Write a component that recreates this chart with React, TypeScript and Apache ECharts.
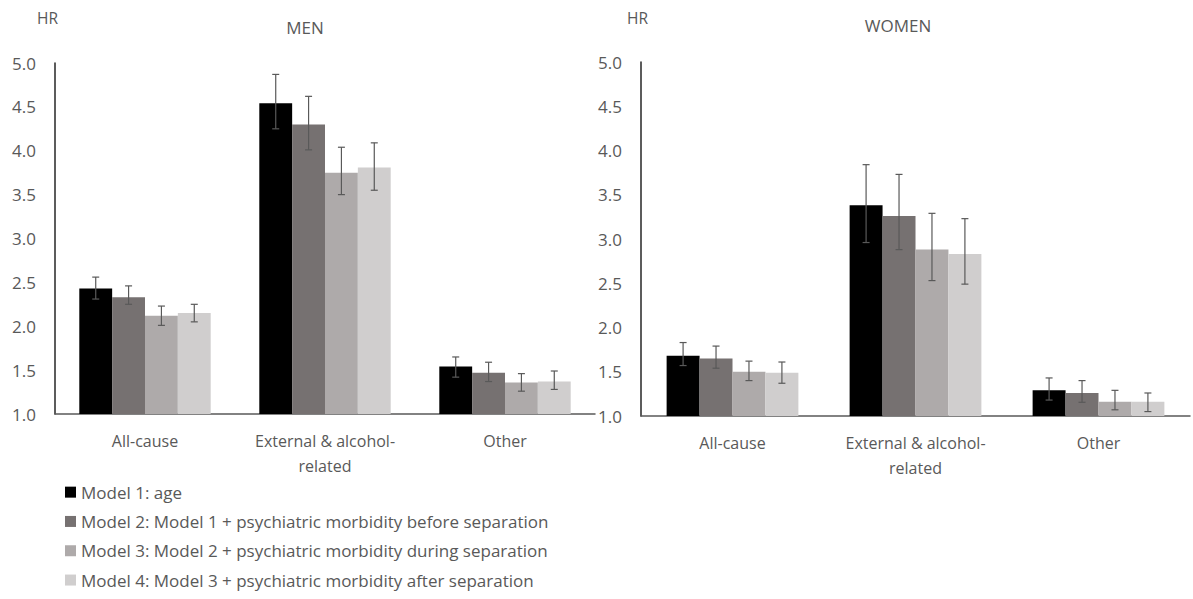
import React, { useEffect, useRef } from "react";
import * as echarts from "echarts";

const categories = ["All-cause", "External & alcohol-\nrelated", "Other"];
const models = [
  "Model 1: age",
  "Model 2: Model 1 + psychiatric morbidity before separation",
  "Model 3: Model 2 + psychiatric morbidity during separation",
  "Model 4: Model 3 + psychiatric morbidity after separation",
];
const colors = ["#000000", "#767171", "#AEAAAA", "#D0CECE"];
const yTicks = [1.0, 1.5, 2.0, 2.5, 3.0, 3.5, 4.0, 4.5, 5.0];

// MEN: HR per model, per category
const menHR = [
  [2.43, 4.54, 1.54],
  [2.33, 4.30, 1.47],
  [2.12, 3.75, 1.36],
  [2.15, 3.81, 1.37],
];
const menLow = [
  [2.31, 4.25, 1.42],
  [2.25, 4.01, 1.37],
  [2.01, 3.50, 1.26],
  [2.05, 3.55, 1.28],
];
const menHigh = [
  [2.56, 4.87, 1.65],
  [2.46, 4.62, 1.59],
  [2.23, 4.04, 1.46],
  [2.25, 4.09, 1.49],
];

// WOMEN
const womenHR = [
  [1.68, 3.38, 1.29],
  [1.65, 3.26, 1.26],
  [1.50, 2.88, 1.16],
  [1.49, 2.83, 1.16],
];
const womenLow = [
  [1.57, 2.96, 1.18],
  [1.54, 2.88, 1.155],
  [1.40, 2.53, 1.07],
  [1.37, 2.49, 1.05],
];
const womenHigh = [
  [1.83, 3.84, 1.43],
  [1.79, 3.73, 1.40],
  [1.62, 3.29, 1.29],
  [1.61, 3.23, 1.26],
];

const FONT = "'Open Sans', Lato, sans-serif";
const TXT = "#595959";

function buildOption() {
  const gaps = [0.27, 0.28];
  const grids = [
    { left: 55, top: 63, width: 540, height: 351 },
    { left: 641, top: 62, width: 549, height: 354 },
  ];
  const xAxes = grids.map((_, i) => ({
    type: "category",
    gridIndex: i,
    data: categories,
    axisTick: { show: false },
    axisLine: { show: true, lineStyle: { color: "#595959", width: 1.5 } },
    axisLabel: {
      interval: 0,
      hideOverlap: false,
      color: TXT,
      fontSize: 16,
      fontFamily: FONT,
      margin: 14,
      lineHeight: 25,
    },
  }));
  const yAxes = grids.map((_, i) => ({
    type: "value",
    gridIndex: i,
    min: 1,
    max: 5,
    interval: 0.5,
    splitLine: { show: false },
    axisTick: { show: false },
    axisLine: { show: true, lineStyle: { color: "#262626", width: 1.5 } },
    axisLabel: {
      color: TXT,
      fontSize: 17,
      fontFamily: FONT,
      margin: 19,
      formatter: (v: number) => {
        const t = yTicks.find((k) => Math.abs(k - v) < 1e-9);
        return (t !== undefined ? t : v).toFixed(1);
      },
    },
  }));

  const series: any[] = [];
  const datasets = [
    { hr: menHR, lo: menLow, hi: menHigh },
    { hr: womenHR, lo: womenLow, hi: womenHigh },
  ];
  datasets.forEach((d, g) => {
    d.hr.forEach((vals, m) => {
      series.push({
        type: "bar",
        name: models[m],
        xAxisIndex: g,
        yAxisIndex: g,
        data: vals,
        barGap: "0%",
        barCategoryGap: Math.round(gaps[g] * 100) + "%",
        itemStyle: { color: colors[m] },
        z: 2,
      });
    });
    d.hr.forEach((_, m) => {
      const gap = gaps[g];
      series.push({
        type: "custom",
        xAxisIndex: g,
        yAxisIndex: g,
        z: 5,
        silent: true,
        data: categories.map((_, c) => [c, d.lo[m][c], d.hi[m][c]]),
        renderItem: (params: any, api: any) => {
          const c = api.value(0);
          const lo = api.coord([c, api.value(1)]);
          const hi = api.coord([c, api.value(2)]);
          const band = api.size([1, 0])[0];
          const barW = (band * (1 - gap)) / 4;
          const x = lo[0] + (m - 1.5) * barW;
          const style = { stroke: "#595959", lineWidth: 1.2 };
          const cap = 3.5;
          return {
            type: "group",
            children: [
              { type: "line", shape: { x1: x, y1: hi[1], x2: x, y2: lo[1] }, style },
              { type: "line", shape: { x1: x - cap, y1: hi[1], x2: x + cap, y2: hi[1] }, style },
              { type: "line", shape: { x1: x - cap, y1: lo[1], x2: x + cap, y2: lo[1] }, style },
            ],
          };
        },
      });
    });
  });

  return {
    animation: false,
    backgroundColor: "#ffffff",
    grid: grids,
    xAxis: xAxes,
    yAxis: yAxes,
    series,
    legend: {
      data: models,
      orient: "vertical",
      left: 60,
      top: 478,
      icon: "rect",
      itemWidth: 11,
      itemHeight: 11,
      itemGap: 11,
      textStyle: { color: TXT, fontSize: 17, fontFamily: FONT, lineHeight: 18.3 },
      selectedMode: false,
    },
    graphic: [
      { type: "text", x: 37, y: 10, style: { text: "HR", fill: TXT, font: `15.5px ${FONT}` } },
      { type: "text", x: 627, y: 10, style: { text: "HR", fill: TXT, font: `15.5px ${FONT}` } },
      { type: "text", x: 305, y: 19, style: { text: "MEN", fill: TXT, font: `17px ${FONT}`, textAlign: "center" } },
      { type: "text", x: 898, y: 17, style: { text: "WOMEN", fill: TXT, font: `17px ${FONT}`, textAlign: "center" } },
    ],
  };
}

export default function App() {
  const ref = useRef<HTMLDivElement>(null);
  useEffect(() => {
    if (!ref.current) return;
    const chart = echarts.init(ref.current, undefined, { renderer: "svg" });
    chart.setOption(buildOption() as any);
    return () => chart.dispose();
  }, []);
  return (
    <div
      ref={ref}
      style={{ position: "fixed", left: 0, top: 0, width: 1193, height: 599, background: "#fff" }}
    />
  );
}
